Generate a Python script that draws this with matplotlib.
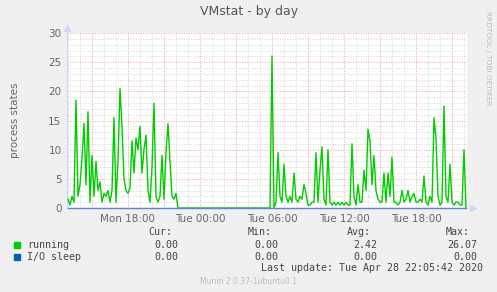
import matplotlib
matplotlib.use('Agg')
import matplotlib.pyplot as plt
import numpy as np

# 10-minute samples, hours relative to Tue 00:00
t_start = -11.0
t_step = 1 / 6

running_mon = [1.5, 0.5, 2, 1, 18.5, 2, 4, 8.5, 14.5, 4, 16.5, 1, 9, 2, 8, 3, 4.5, 1, 2.5, 2,
               3, 1, 3, 15.5, 1, 8, 20.5, 14, 5, 3, 2.5, 3.5, 11.5, 6, 12, 10, 14, 6, 10, 12.5,
               3, 1, 7, 18, 2, 1, 2, 9, 1.5, 9.5, 14.5, 8, 2, 1.5, 2.5, 0]
running_gap = [0, 0, 0, 0, 0, 0, 0, 0, 0, 0, 0, 0, 0, 0, 0, 0, 0, 0, 0, 0, 0, 0, 0,
               0, 0, 0, 0, 0, 0, 0, 0, 0, 0, 0, 0, 0, 0, 0, 0, 0, 0, 0, 0, 0, 0, 0]
running_tue = [26.07, 0, 1, 9.5, 2, 1, 7.5, 2, 1, 2, 1, 6, 1.5, 1, 2, 1.5, 4, 2.5, 0.5, 0.5,
               1, 1, 9.5, 1, 6.5, 10.5, 1.5, 0.5, 10, 1, 0.5, 1, 0.5, 1, 0.5, 1, 0.5, 1, 0.5, 0.5,
               11, 2, 0.5, 4, 1, 1, 6.5, 3, 13.5, 11.5, 4, 9, 3, 1.5, 1, 1, 6, 1, 6, 2,
               8.7, 1, 1, 0.5, 1, 3, 1, 1.5, 3, 1, 2, 2.5, 1, 1, 1.5, 1, 5.5, 1, 0.5, 2,
               1, 15.5, 12, 2, 0.5, 1, 17.5, 2, 1, 7.5, 1, 0.5, 1, 1, 0.5, 0.5, 10, 0]

running = np.array(running_mon + running_gap + running_tue)
io_sleep = np.zeros(len(running))
t = t_start + np.arange(len(running)) * t_step

tick_hours = [-6, 0, 6, 12, 18]
tick_labels = ['Mon 18:00', 'Tue 00:00', 'Tue 06:00', 'Tue 12:00', 'Tue 18:00']

legend_names = ['running', 'I/O sleep']
legend_colors = ['#00cc00', '#0066b3']
cur = ['0.00', '0.00']
mins = ['0.00', '0.00']
avg = ['2.42', '0.00']
maxs = ['26.07', '0.00']

W, H = 497, 292
fig = plt.figure(figsize=(W / 100, H / 100), dpi=100, facecolor='#f0f0f0')
ax = fig.add_axes([67 / W, (H - 208) / H, 400 / W, 175 / H])
ax.set_facecolor('white')

ax.set_xlim(-11.083, 22.25)
ax.set_ylim(0, 30)

# grid: gray every hour / unit, red every 3h / 5 units
dots = (0, (1, 1.6))
for h in range(-11, 23):
    if h % 3 == 0:
        ax.axvline(h, color='#f2a0a0', lw=0.7, ls=dots, zorder=1)
    else:
        ax.axvline(h, color='#d4d4d4', lw=0.7, ls=dots, zorder=1)
for v in range(1, 31):
    if v % 5 == 0:
        ax.axhline(v, color='#f2a0a0', lw=0.7, ls=dots, zorder=1)
    else:
        ax.axhline(v, color='#d4d4d4', lw=0.7, ls=dots, zorder=1)

ax.plot(t, running, color=legend_colors[0], lw=1.0, zorder=3)
ax.plot(t, io_sleep, color='#5b86d0', lw=1.0, zorder=4, clip_on=False)

for s in ['top', 'right']:
    ax.spines[s].set_visible(False)
ax.spines['left'].set_color('#cfd6f8')
ax.spines['bottom'].set_color('#cfd6f8')
ax.spines['left'].set_linewidth(0.8)
ax.spines['bottom'].set_linewidth(0.8)
ax.plot([0], [1.03], marker='^', ms=4, color='#cfd6f8', transform=ax.transAxes, clip_on=False)
ax.plot([1.015], [0], marker='>', ms=4, color='#cfd6f8', transform=ax.transAxes, clip_on=False)

ax.set_xticks(tick_hours)
ax.set_xticklabels(tick_labels)
ax.set_yticks(range(0, 31, 5))
ax.tick_params(length=0, colors='#666666', labelsize=7.5, pad=4)
ax.set_ylabel('process states', color='#666666', fontsize=7.5, labelpad=20)

def px(x, y):
    return x / W, 1 - y / H

fig.text(*px(249, 12), 'VMstat - by day', ha='center', va='center', color='#555555', fontsize=9)
fig.text(*px(488, 58), 'RRDTOOL / TOBI OETIKER', ha='center', va='center', rotation=270,
         color='#bbbbbb', fontsize=5.3)

mono = dict(family='DejaVu Sans Mono', fontsize=7.2, color='#444444', va='center')
heads = ['Cur:', 'Min:', 'Avg:', 'Max:']
head_x = [172, 272, 371, 470]
val_x = [178, 278, 377, 477]
for hx, hd in zip(head_x, heads):
    fig.text(*px(hx, 232), hd, ha='right', **mono)
for i, name in enumerate(legend_names):
    y = 245 + 12 * i
    fig.patches.append(plt.Rectangle(px(14, y + 3), 6 / W, 6 / H, color=legend_colors[i],
                                     transform=fig.transFigure, figure=fig))
    fig.text(*px(27, y), name, ha='left', **mono)
    for vx, col in zip(val_x, [cur, mins, avg, maxs]):
        fig.text(*px(vx, y), col[i], ha='right', **mono)
fig.text(*px(483, 268), 'Last update: Tue Apr 28 22:05:42 2020', ha='right', **mono)
fig.text(*px(248, 281), 'Munin 2.0.37-1ubuntu0.1', ha='center', va='center', color='#bbbbbb', fontsize=5.5)

fig.savefig('out.png', dpi=100, facecolor=fig.get_facecolor())
